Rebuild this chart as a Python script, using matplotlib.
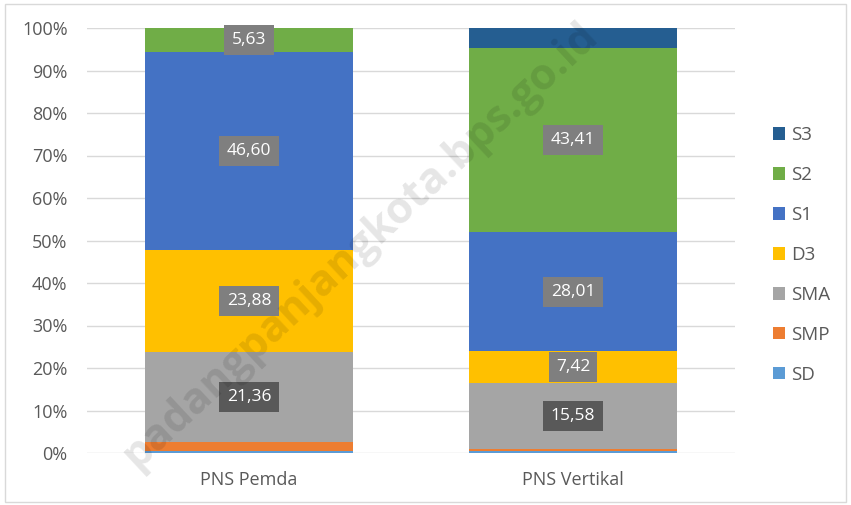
import matplotlib.pyplot as plt
import numpy as np
from matplotlib.patches import Rectangle

# data (percent shares by education level)
groups = ["PNS Pemda", "PNS Vertikal"]
levels = ["SD", "SMP", "SMA", "D3", "S1", "S2", "S3"]
pemda = [0.45, 2.05, 21.36, 23.88, 46.60, 5.63, 0.03]
vertikal = [0.40, 0.50, 15.58, 7.42, 28.01, 43.41, 4.68]
labeled = ["SMA", "D3", "S1", "S2"]

colors = {"SD": "#5b9bd5", "SMP": "#ed7d31", "SMA": "#a5a5a5", "D3": "#ffc000",
          "S1": "#4472c4", "S2": "#70ad47", "S3": "#255e91"}
box_colors = {"SMA": "#595959"}

plt.rcParams['font.family'] = ['Open Sans', 'DejaVu Sans']

fig = plt.figure(figsize=(8.51, 5.05), dpi=100)
ax = fig.add_axes([87/851, 52/505, 648/851, 425/505])

x = np.arange(len(groups))
bottom = np.zeros(len(groups))
handles = {}
for i, lev in enumerate(levels):
    vals = np.array([pemda[i], vertikal[i]])
    b = ax.bar(x, vals, 0.645, bottom=bottom, color=colors[lev], zorder=2)
    handles[lev] = b
    if lev in labeled:
        for xi, v, b0 in zip(x, vals, bottom):
            ax.text(xi, b0 + v / 2, f"{v:.2f}".replace(".", ","), ha="center", va="center",
                    color="white", fontsize=12.5, zorder=4,
                    bbox=dict(boxstyle="square,pad=0.42", fc=box_colors.get(lev, "#7f7f7f"), ec="none"))
    bottom += vals

ax.set_xlim(-0.5, 1.5)
ax.set_ylim(0, 100)
ax.set_yticks(np.arange(0, 101, 10))
ax.set_yticklabels([f"{t}%" for t in range(0, 101, 10)])
ax.set_xticks(x)
ax.set_xticklabels(groups)
ax.tick_params(length=0, colors="#595959", labelsize=13)
ax.tick_params(axis="y", pad=14)
ax.tick_params(axis="x", pad=13)
ax.grid(axis="y", color="#d9d9d9", linewidth=1, zorder=0)
for s in ax.spines.values():
    s.set_visible(False)

leg = ax.legend([handles[l] for l in levels[::-1]], levels[::-1], loc="center left",
                bbox_to_anchor=(1.059, 0.466), frameon=False, fontsize=13.5,
                borderaxespad=0, borderpad=0,
                labelspacing=1.17, handlelength=0.65, handleheight=0.65, handletextpad=0.3)
for t in leg.get_texts():
    t.set_color("#595959")

# watermark
fig.text(360/851, 1 - 245/505, "padangpanjangkota.bps.go.id", rotation=43,
         ha="center", va="center", fontsize=31, fontweight="bold",
         color="black", alpha=0.1, zorder=10)

fig.patches.append(Rectangle((5/851, 3/505), 841/851, 498/505, transform=fig.transFigure,
                             fill=False, ec="#d9d9d9", lw=1))

fig.savefig("out.png", dpi=100)
